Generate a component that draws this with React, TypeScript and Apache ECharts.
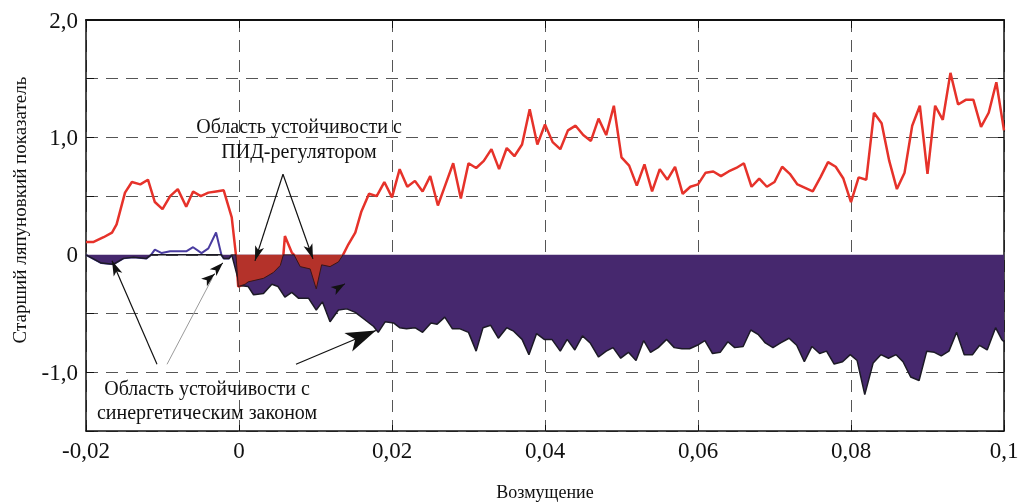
import React, { useEffect, useRef } from "react";
import * as echarts from "echarts";

// ---- Data ----
const redX = [
  -0.02, -0.019, -0.0177, -0.0166, -0.016, -0.0149, -0.014, -0.0129, -0.0119, -0.011,
  -0.01, -0.009, -0.008, -0.0069, -0.006, -0.005, -0.004, -0.003, -0.002, -0.00095,
  -0.0004, -0.0001, 0.0008, 0.0012, 0.0032, 0.0045, 0.0054, 0.0058, 0.006, 0.0069,
  0.0072, 0.008, 0.0093, 0.0101, 0.0108, 0.0119, 0.013, 0.0136, 0.0143, 0.0152,
  0.016, 0.017, 0.018, 0.019, 0.02, 0.021, 0.022, 0.023, 0.024, 0.025,
  0.026, 0.027, 0.028, 0.029, 0.03, 0.031, 0.032, 0.033, 0.034, 0.035,
  0.036, 0.037, 0.038, 0.039, 0.04, 0.041, 0.042, 0.043, 0.044, 0.045,
  0.046, 0.047, 0.048, 0.049, 0.05, 0.051, 0.052, 0.053, 0.054, 0.055,
  0.056, 0.057, 0.058, 0.059, 0.06, 0.061, 0.062, 0.063, 0.064, 0.065,
  0.066, 0.067, 0.068, 0.069, 0.07, 0.071, 0.072, 0.073, 0.074, 0.075,
  0.076, 0.077, 0.078, 0.079, 0.08, 0.081, 0.082, 0.083, 0.084, 0.085,
  0.086, 0.087, 0.088, 0.089, 0.09, 0.091, 0.092, 0.093, 0.094, 0.095,
  0.096, 0.097, 0.098, 0.099, 0.1,
];
const redY = [
  0.11, 0.11, 0.15, 0.19, 0.26, 0.53, 0.62, 0.6, 0.64, 0.45,
  0.39, 0.5, 0.56, 0.41, 0.54, 0.5, 0.53, 0.54, 0.55, 0.32,
  0, -0.27, -0.25, -0.23, -0.2, -0.15, -0.09, 0, 0.16, 0.02,
  0, -0.1, -0.12, -0.29, -0.085, -0.1, -0.06, 0, 0.09, 0.19,
  0.37, 0.52, 0.5, 0.62, 0.49, 0.73, 0.58, 0.63, 0.54, 0.67,
  0.42, 0.6, 0.78, 0.48, 0.78, 0.74, 0.8, 0.9, 0.73, 0.91,
  0.84, 0.94, 1.24, 0.94, 1.11, 0.96, 0.9, 1.06, 1.1, 1.02,
  0.97, 1.16, 1.02, 1.27, 0.83, 0.76, 0.59, 0.77, 0.54, 0.73,
  0.64, 0.75, 0.52, 0.58, 0.6, 0.7, 0.71, 0.67, 0.71, 0.74,
  0.78, 0.58, 0.65, 0.58, 0.62, 0.75, 0.69, 0.6, 0.57, 0.54,
  0.66, 0.79, 0.75, 0.65, 0.45, 0.66, 0.64, 1.21, 1.12, 0.8,
  0.56, 0.7, 1.1, 1.27, 0.69, 1.27, 1.15, 1.55, 1.28, 1.32,
  1.32, 1.09, 1.21, 1.47, 1.06,
];

const blueX = [
  -0.02, -0.018, -0.0164, -0.0151, -0.0138, -0.0121, -0.0115, -0.011, -0.0101, -0.009,
  -0.0079, -0.0069, -0.006, -0.0049, -0.004, -0.003, -0.0023, -0.002, -0.0013, -0.00095,
  0.0001, 0.0012, 0.0019, 0.0032, 0.0043, 0.0051, 0.006, 0.0069, 0.0078, 0.0091,
  0.0101, 0.0109, 0.0119, 0.013, 0.0141, 0.0152, 0.0162, 0.0176, 0.0182, 0.0191,
  0.0202, 0.021, 0.0219, 0.023, 0.024, 0.0251, 0.0259, 0.0269, 0.0279, 0.0289,
  0.03, 0.031, 0.0319, 0.0329, 0.0339, 0.035, 0.0359, 0.037, 0.0379, 0.0389,
  0.0399, 0.0409, 0.042, 0.0429, 0.0439, 0.0449, 0.0459, 0.047, 0.048, 0.0489,
  0.0499, 0.0509, 0.0519, 0.0529, 0.0538, 0.0548, 0.0559, 0.0569, 0.0579, 0.0589,
  0.0599, 0.0609, 0.0619, 0.0629, 0.0639, 0.0648, 0.0659, 0.0669, 0.0679, 0.0688,
  0.0698, 0.0708, 0.0719, 0.0729, 0.0739, 0.0749, 0.0759, 0.0768, 0.0778, 0.0789,
  0.0799, 0.0808, 0.0818, 0.0829, 0.0839, 0.0849, 0.0859, 0.0868, 0.0878, 0.0889,
  0.0899, 0.0909, 0.0918, 0.0928, 0.0938, 0.0948, 0.0959, 0.0968, 0.0978, 0.0989,
  0.0997, 0.1,
];
const blueY = [
  0, -0.07, -0.08, -0.03, -0.02, -0.03, 0, 0.045, 0.015, 0.03,
  0.03, 0.03, 0.065, 0.015, 0.055, 0.19, 0, -0.03, -0.03, 0,
  -0.26, -0.27, -0.34, -0.33, -0.25, -0.27, -0.36, -0.32, -0.37, -0.37,
  -0.47, -0.4, -0.57, -0.47, -0.46, -0.49, -0.54, -0.61, -0.66, -0.57,
  -0.58, -0.62, -0.63, -0.62, -0.66, -0.58, -0.59, -0.53, -0.63, -0.63,
  -0.66, -0.82, -0.62, -0.6, -0.71, -0.62, -0.65, -0.72, -0.85, -0.67,
  -0.72, -0.72, -0.82, -0.72, -0.81, -0.69, -0.75, -0.87, -0.82, -0.79,
  -0.88, -0.83, -0.9, -0.73, -0.83, -0.79, -0.72, -0.79, -0.8, -0.8,
  -0.77, -0.73, -0.84, -0.83, -0.74, -0.79, -0.78, -0.64, -0.68, -0.75,
  -0.79, -0.75, -0.71, -0.77, -0.91, -0.78, -0.84, -0.82, -0.93, -0.91,
  -0.85, -0.9, -1.19, -0.92, -0.85, -0.88, -0.85, -0.91, -1.04, -1.07,
  -0.82, -0.83, -0.86, -0.82, -0.66, -0.85, -0.85, -0.77, -0.81, -0.62,
  -0.72, -0.74,
];

const xTickLabels = ["-0,02", "0", "0,02", "0,04", "0,06", "0,08", "0,1"];
const yTickValues = [-1, 0, 1, 2];
const yTickLabels = ["-1,0", "0", "1,0", "2,0"];

const yAxisTitle = "Старший ляпуновкий показатель";
const xAxisTitle = "Возмущение";
const pidNote = ["Область устойчивости с", "ПИД-регулятором"];
const synNote = ["Область устойчивости с", "синергетическим законом"];

const SERIF = "Liberation Serif";

export default function App() {
  const ref = useRef<HTMLDivElement>(null);

  useEffect(() => {
    if (!ref.current) return;
    const chart = echarts.init(ref.current, undefined, { renderer: "svg" });

    const redLine = redX.map((x, i) => [x, redY[i]]);
    const blueLine = blueX
      .map((x, i) => [x, blueY[i]])
      .filter((p) => p[0] <= -0.0009);
    const purpleFill = blueX.map((x, i) => [x, Math.min(blueY[i], 0)]);
    const redFill = redX
      .map((x, i) => [x, Math.min(redY[i], 0)])
      .filter((p) => p[0] >= -0.001 && p[0] <= 0.014);

    const arrow = (a: number[], b: number[], color = "#111", width = 1.2, size = [7, 15]) => [
      { coord: a, symbol: "none", lineStyle: { color, width, type: "solid" } },
      { coord: b, symbol: "arrow", symbolSize: size },
    ];
    const plain = (a: number[], b: number[], color: string, width: number) => [
      { coord: a, symbol: "none", lineStyle: { color, width, type: "solid" } },
      { coord: b, symbol: "none" },
    ];

    const grid = { type: [12, 8], color: "#555", width: 1 };

    const textEl = (t: string, x: number, y: number, size: number, rotation = 0) => ({
      type: "text",
      x,
      y,
      rotation,
      z: 100,
      style: {
        text: t,
        font: `${size}px "Liberation Serif", "Times New Roman", serif`,
        fill: "#111",
        align: "center",
        verticalAlign: "middle",
      },
    });

    const tickLabel = {
      fontFamily: SERIF,
      fontSize: 23,
      color: "#111",
      margin: 8,
    };

    const option: any = {
      animation: false,
      textStyle: { fontFamily: SERIF, fontSize: 23 },
      grid: { left: 86, right: 18, top: 20, bottom: 72 },
      xAxis: [
        {
          type: "value",
          min: -0.02,
          max: 0.1,
          interval: 0.02,
          position: "bottom",
          axisLine: { onZero: false, lineStyle: { color: "#111", width: 1.5 } },
          axisTick: { show: true, inside: true, length: 6, lineStyle: { color: "#111" } },
          axisLabel: {
            ...tickLabel,
            formatter: (v: number) => xTickLabels[Math.round((v + 0.02) / 0.02)] ?? "",
          },
          splitLine: { show: true, lineStyle: grid },
        },
        {
          type: "value",
          min: -0.02,
          max: 0.1,
          interval: 0.02,
          position: "top",
          axisLine: { onZero: false, lineStyle: { color: "#111", width: 2 } },
          axisTick: { show: true, inside: true, length: 8, lineStyle: { color: "#111" } },
          axisLabel: { show: false },
          splitLine: { show: false },
        },
      ],
      yAxis: [
        {
          type: "value",
          min: -1.5,
          max: 2,
          interval: 0.5,
          position: "left",
          axisLine: { show: true, onZero: false, lineStyle: { color: "#111", width: 1.5 } },
          axisTick: { show: true, inside: true, length: 8, lineStyle: { color: "#111" } },
          axisLabel: {
            ...tickLabel,
            formatter: (v: number) => {
              const i = yTickValues.findIndex((t) => Math.abs(t - v) < 1e-6);
              return i >= 0 ? yTickLabels[i] : "";
            },
          },
          splitLine: { show: true, lineStyle: grid },
        },
        {
          type: "value",
          min: -1.5,
          max: 2,
          interval: 0.5,
          position: "right",
          axisLine: { show: true, onZero: false, lineStyle: { color: "#111", width: 1.5 } },
          axisTick: { show: true, inside: true, length: 6, lineStyle: { color: "#111" } },
          axisLabel: { show: false },
          splitLine: { show: false },
        },
      ],
      series: [
        {
          name: "red",
          type: "line",
          data: redLine,
          symbol: "none",
          lineStyle: { color: "#e6322a", width: 2.5 },
          z: 2,
          silent: true,
        },
        {
          name: "blue",
          type: "line",
          data: blueLine,
          symbol: "none",
          lineStyle: { color: "#4a3ca0", width: 2 },
          z: 2,
          silent: true,
        },
        {
          name: "purpleFill",
          type: "line",
          data: purpleFill,
          symbol: "none",
          lineStyle: { color: "#1c1a26", width: 1.5 },
          areaStyle: { color: "#46286e", opacity: 1, origin: 0 },
          z: 3,
          silent: true,
        },
        {
          name: "redFill",
          type: "line",
          data: redFill,
          symbol: "none",
          lineStyle: { color: "#3a1616", width: 1 },
          areaStyle: { color: "#b4322a", opacity: 1, origin: 0 },
          z: 4,
          silent: true,
        },
        {
          name: "annotations",
          type: "line",
          data: [],
          z: 6,
          silent: true,
          markLine: {
            silent: true,
            animation: false,
            symbol: ["none", "arrow"],
            label: { show: false },
            emphasis: { disabled: true },
            data: [
              [{ yAxis: 0, symbol: "none", lineStyle: { color: "#161616", width: 2, type: "solid" } }, { symbol: "none" }],
              arrow([0.00575, 0.686], [0.00209, -0.051]),
              arrow([0.00575, 0.686], [0.00967, -0.034]),
              arrow([-0.01072, -0.932], [-0.0166, -0.051]),
              plain([-0.00941, -0.932], [-0.0035, -0.2], "#9a9a9a", 1),
              arrow([-0.0037, -0.19], [-0.00314, -0.161], "#111", 1, [7, 14]),
              arrow([-0.00301, -0.127], [-0.00209, -0.068], "#111", 1, [7, 14]),
              arrow([0.0128, -0.288], [0.01386, -0.246], "#111", 1, [7, 14]),
            ],
          },
        },
        {
          name: "bigArrow",
          type: "line",
          data: [],
          z: 6,
          silent: true,
          markLine: {
            silent: true,
            animation: false,
            symbol: ["none", "arrow"],
            symbolSize: [15, 30],
            label: { show: false },
            emphasis: { disabled: true },
            data: [
              [
                { coord: [0.00745, -0.932], lineStyle: { color: "#111", width: 1.2, type: "solid" } },
                { coord: [0.0179, -0.644] },
              ],
            ],
          },
        },
      ],
      graphic: [
        textEl(yAxisTitle, 19, 210, 19, Math.PI / 2),
        textEl(xAxisTitle, 545, 492, 18),
        ...pidNote.map((t, i) => textEl(t, 299, 126 + i * 25, 20)),
        ...synNote.map((t, i) => textEl(t, 207, 388 + i * 24, 20)),
      ],
    };

    chart.setOption(option);
    return () => chart.dispose();
  }, []);

  return (
    <div
      ref={ref}
      style={{ position: "fixed", left: 0, top: 0, width: 1022, height: 503, fontFamily: "Liberation Serif" }}
    />
  );
}
